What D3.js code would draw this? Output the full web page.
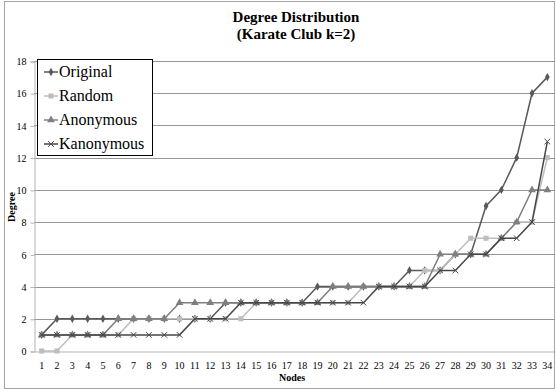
<!DOCTYPE html>
<html>
<head>
<meta charset="utf-8">
<script src="https://cdn.jsdelivr.net/npm/d3@7/dist/d3.min.js"></script>
<style>
  body { margin: 0; background: #fff; }
</style>
</head>
<body>
<div id="chart"></div>
<script>
// node index 1..34 (sorted by degree)
var nodes = d3.range(1, 35);
var yTicks = [0, 2, 4, 6, 8, 10, 12, 14, 16, 18];

var original   = [1,2,2,2,2,2,2,2,2,2,2,2,3,3,3,3,3,3,4,4,4,4,4,4,5,5,5,6,6,9,10,12,16,17];
var random     = [0,0,1,1,1,1,2,2,2,2,2,2,2,2,3,3,3,3,3,3,3,4,4,4,4,5,5,6,7,7,7,8,8,12];
var anonymous  = [1,1,1,1,1,2,2,2,2,3,3,3,3,3,3,3,3,3,3,4,4,4,4,4,4,4,6,6,6,6,7,8,10,10];
var kanonymous = [1,1,1,1,1,1,1,1,1,1,2,2,2,3,3,3,3,3,3,3,3,3,4,4,4,4,5,5,6,6,7,7,8,13];

var seriesNames = ["Original", "Random", "Anonymous", "Kanonymous"];

function init() {
    var w = 556, h = 390;
    var series = [
        { name: seriesNames[0], values: original,   color: "#595959", symbol: d3.symbolDiamond,  size: 20 },
        { name: seriesNames[1], values: random,     color: "#bdbdbd", symbol: d3.symbolSquare,   size: 26 },
        { name: seriesNames[2], values: anonymous,  color: "#7f7f7f", symbol: d3.symbolTriangle, size: 26 },
        { name: seriesNames[3], values: kanonymous, color: "#474747", symbol: d3.symbolX,        size: 22 }
    ];

    var svg = d3.select("#chart").append("svg")
        .attr("width", w)
        .attr("height", h);

    // outer chart border
    svg.append("rect")
        .attr("x", 4.5).attr("y", 1.5)
        .attr("width", 550).attr("height", 387)
        .attr("fill", "#fff")
        .attr("stroke", "#a6a6a6");

    var x = d3.scaleBand().domain(nodes).range([34, 555]);
    var y = d3.scaleLinear().domain([0, 18]).range([351, 61]);
    function px(i) { return x(nodes[i]) + x.bandwidth() / 2; }

    // gridlines
    svg.append("g").selectAll("line")
        .data(yTicks.filter(function (d) { return d > 0; }))
        .enter().append("line")
        .attr("x1", 34).attr("x2", 555)
        .attr("y1", function (d) { return Math.round(y(d)) + 0.5; })
        .attr("y2", function (d) { return Math.round(y(d)) + 0.5; })
        .attr("stroke", "#969696");

    // y axis
    var yAxis = svg.append("g")
        .attr("transform", "translate(34.5,0.5)")
        .call(d3.axisLeft(y).tickValues(yTicks).tickSize(4).tickPadding(4));
    yAxis.select(".domain").attr("stroke", "#b3b3b3");
    yAxis.selectAll(".tick line").attr("stroke", "#b3b3b3");
    yAxis.selectAll(".tick text")
        .attr("font-size", 10).attr("fill", "#000");

    // x axis
    var xAxis = svg.append("g")
        .attr("transform", "translate(0," + (Math.round(y(0)) + 0.5) + ")")
        .call(d3.axisBottom(x).tickSize(0).tickPadding(10));
    xAxis.select(".domain").attr("stroke", "#b3b3b3");
    xAxis.selectAll(".tick text")
        .attr("font-size", 10).attr("fill", "#000");

    // lines and markers
    var line = d3.line()
        .x(function (d, i) { return px(i); })
        .y(function (d) { return y(d); });

    series.forEach(function (s) {
        svg.append("path")
            .datum(s.values)
            .attr("fill", "none")
            .attr("stroke", s.color)
            .attr("stroke-width", 1.5)
            .attr("d", line);
        svg.append("g").selectAll("path")
            .data(s.values)
            .enter().append("path")
            .attr("transform", function (d, i) { return "translate(" + px(i) + "," + y(d) + ")"; })
            .attr("d", d3.symbol().type(s.symbol).size(s.size))
            .attr("fill", s.symbol === d3.symbolX ? "none" : s.color)
            .attr("stroke", s.symbol === d3.symbolX ? s.color : "none")
            .attr("stroke-width", 1);
    });

    // titles
    svg.append("text")
        .attr("x", 296).attr("y", 22)
        .attr("text-anchor", "middle")
        .attr("font-size", 15).attr("font-weight", "bold")
        .text("Degree Distribution");
    svg.append("text")
        .attr("x", 296).attr("y", 39)
        .attr("text-anchor", "middle")
        .attr("font-size", 15).attr("font-weight", "bold")
        .text("(Karate Club k=2)");

    svg.append("text")
        .attr("x", 292).attr("y", 381)
        .attr("text-anchor", "middle")
        .attr("font-size", 10).attr("font-weight", "bold")
        .text("Nodes");
    svg.append("text")
        .attr("transform", "translate(15,207) rotate(-90)")
        .attr("text-anchor", "middle")
        .attr("font-size", 10).attr("font-weight", "bold")
        .text("Degree");

    // legend
    var legend = svg.append("g");
    legend.append("rect")
        .attr("x", 37.5).attr("y", 59.5)
        .attr("width", 115).attr("height", 96)
        .attr("fill", "#fff").attr("stroke", "#000");
    series.forEach(function (s, i) {
        var ly = 72 + i * 24;
        legend.append("line")
            .attr("x1", 44).attr("x2", 58)
            .attr("y1", ly).attr("y2", ly)
            .attr("stroke", s.color).attr("stroke-width", 1.5);
        legend.append("path")
            .attr("transform", "translate(51," + ly + ")")
            .attr("d", d3.symbol().type(s.symbol).size(s.size))
            .attr("fill", s.symbol === d3.symbolX ? "none" : s.color)
            .attr("stroke", s.symbol === d3.symbolX ? s.color : "none");
        legend.append("text")
            .attr("x", 59).attr("y", ly + 5)
            .attr("font-size", 16)
            .text(s.name);
    });

    // serif font everywhere (inline style beats the axis font attribute)
    svg.selectAll("text").style("font-family", "'Liberation Serif'");
}

window.onload = init;
</script>
</body>
</html>
